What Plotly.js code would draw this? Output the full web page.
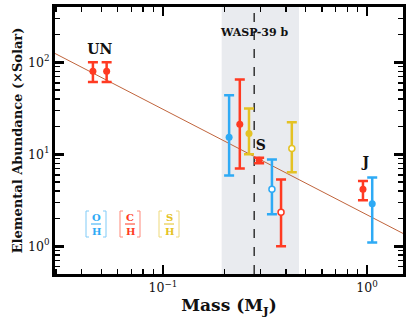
<!DOCTYPE html>
<html>
<head>
<meta charset="utf-8">
<script src="https://cdn.plot.ly/plotly-3.0.1.min.js"></script>
<style>
  html, body { margin: 0; padding: 0; background: #fff; }
  #chart { width: 411px; height: 327px; }
</style>
</head>
<body>
<div id="chart"></div>
<script>
// Oxygen [O/H] (blue)
const oMass = [0.211, 1.06];
const oAbund = [15.3, 2.9];
const oErrUp = [28.5, 2.7];
const oErrDown = [9.4, 1.8];
const oOpenMass = [0.342];
const oOpenAbund = [4.17];
const oOpenErrUp = [4.6];
const oOpenErrDown = [1.94];

// Carbon [C/H] (red): Uranus, Neptune, WASP-39 b, Saturn, Jupiter
const cMass = [0.0454, 0.053, 0.238, 0.296, 0.955];
const cAbund = [80, 80, 21.2, 8.6, 4.17];
const cErrUp = [20, 20, 44, 0.6, 0.95];
const cErrDown = [19, 19, 14.2, 0.6, 1.0];
const cOpenMass = [0.379];
const cOpenAbund = [2.34];
const cOpenErrUp = [3.0];
const cOpenErrDown = [1.34];

// Sulfur [S/H] (yellow)
const sMass = [0.264];
const sAbund = [16.9];
const sErrUp = [14.7];
const sErrDown = [6.9];
const sOpenMass = [0.428];
const sOpenAbund = [11.6];
const sOpenErrUp = [10.7];
const sOpenErrDown = [5.2];

// mass-metallicity trend
const fitMass = [0.0296, 1.5];
const fitAbund = [125, 1.38];

// WASP-39 b mass and its range
const waspMass = 0.28;
const waspRange = [0.194, 0.464];

// planet labels
const labelText = ['UN', 'S', 'J'];
const labelMass = [0.049, 0.302, 0.985];
const labelAbund = [134, 12.3, 8.0];

const xTickVals = [0.1, 1];
const xTickText = ['10<sup>\u22121</sup>', '10<sup>0</sup>'];
const yTickVals = [1, 10, 100];
const yTickText = ['10<sup>0</sup>', '10<sup>1</sup>', '10<sup>2</sup>'];

const blue = '#2eaaf5';
const red = '#ff3a22';
const yellow = '#e4c224';
const serif = 'DejaVu Serif, Liberation Serif, serif';

function pointTrace(x, y, up, down, color, open) {
    return {
        x: x, y: y, type: 'scatter', mode: 'markers',
        marker: {
            size: open ? 6 : 7,
            color: open ? '#ffffff' : color,
            line: { color: color, width: open ? 1.5 : 0 }
        },
        error_y: {
            type: 'data', symmetric: false, array: up, arrayminus: down,
            color: color, thickness: 2.5, width: 5
        },
        hoverinfo: 'x+y'
    };
}

const data = [
    {
        x: fitMass, y: fitAbund, type: 'scatter', mode: 'lines',
        line: { color: '#c0643c', width: 1 }, hoverinfo: 'none'
    },
    pointTrace(oMass, oAbund, oErrUp, oErrDown, blue, false),
    pointTrace(oOpenMass, oOpenAbund, oOpenErrUp, oOpenErrDown, blue, true),
    pointTrace(cMass, cAbund, cErrUp, cErrDown, red, false),
    pointTrace(cOpenMass, cOpenAbund, cOpenErrUp, cOpenErrDown, red, true),
    pointTrace(sMass, sAbund, sErrUp, sErrDown, yellow, false),
    pointTrace(sOpenMass, sOpenAbund, sOpenErrUp, sOpenErrDown, yellow, true),
    {
        x: labelMass, y: labelAbund, text: labelText, type: 'scatter', mode: 'text',
        textfont: { family: serif, size: 14, color: '#111' },
        texttemplate: '<b>%{text}</b>', hoverinfo: 'none'
    }
];

// plot box in pixels, used to place the little [X/H] keys
const box = { l: 55, r: 8, t: 7, b: 53, w: 411, h: 327 };
const pw = box.w - box.l - box.r;
const ph = box.h - box.t - box.b;
const px = v => (v - box.l) / pw;
const py = v => (box.h - box.b - v) / ph;

const keys = [
    { top: 'O', color: blue, cx: 96 },
    { top: 'C', color: red, cx: 130 },
    { top: 'S', color: yellow, cx: 169 }
];

const shapes = [
    {
        type: 'rect', xref: 'x', yref: 'paper',
        x0: waspRange[0], x1: waspRange[1], y0: 0, y1: 1,
        fillcolor: '#e9ebef', line: { width: 0 }, layer: 'below'
    },
    {
        type: 'line', xref: 'x', yref: 'paper',
        x0: waspMass, x1: waspMass, y0: 0, y1: 1,
        line: { color: '#333', width: 1.5, dash: 'dash' }, layer: 'below'
    }
];

const annotations = [
    {
        xref: 'x', yref: 'paper', x: Math.log10(waspMass), y: 0.905,
        xanchor: 'center', yanchor: 'middle',
        text: '<b>WASP-39 b</b>', showarrow: false,
        font: { family: serif, size: 11, color: '#111' }
    }
];

keys.forEach(k => {
    const cx = k.cx, cy = 224;
    annotations.push({
        xref: 'paper', yref: 'paper', x: px(cx), y: py(cy - 6),
        xanchor: 'center', yanchor: 'middle',
        text: '<b>' + k.top + '</b>', showarrow: false,
        font: { family: serif, size: 10, color: k.color }
    });
    annotations.push({
        xref: 'paper', yref: 'paper', x: px(cx), y: py(cy + 7),
        xanchor: 'center', yanchor: 'middle',
        text: '<b>H</b>', showarrow: false,
        font: { family: serif, size: 10, color: k.color }
    });
    shapes.push({
        type: 'line', xref: 'paper', yref: 'paper',
        x0: px(cx - 5), x1: px(cx + 5), y0: py(cy), y1: py(cy),
        line: { color: k.color, width: 1 }
    });
    const l = cx - 10, r = cx + 10, t = cy - 13, b = cy + 13;
    shapes.push({
        type: 'path', xref: 'paper', yref: 'paper',
        path: `M ${px(l + 3)} ${py(t)} L ${px(l)} ${py(t)} L ${px(l)} ${py(b)} L ${px(l + 3)} ${py(b)}`,
        line: { color: k.color, width: 1 }, opacity: 0.6
    });
    shapes.push({
        type: 'path', xref: 'paper', yref: 'paper',
        path: `M ${px(r - 3)} ${py(t)} L ${px(r)} ${py(t)} L ${px(r)} ${py(b)} L ${px(r - 3)} ${py(b)}`,
        line: { color: k.color, width: 1 }, opacity: 0.6
    });
});

const axisCommon = {
    type: 'log', showgrid: false, zeroline: false,
    showline: true, linecolor: '#000', linewidth: 3, mirror: 'ticks',
    ticks: 'inside', ticklen: 9, tickwidth: 2.5, tickcolor: '#000',
    minor: { ticks: 'inside', ticklen: 5, tickwidth: 1.5, tickcolor: '#000', dtick: 'D1', showgrid: false },
    tickfont: { family: serif, size: 12.5, color: '#111' }
};

const layout = {
    width: 411, height: 327,
    margin: { l: box.l, r: box.r, t: box.t, b: box.b },
    paper_bgcolor: '#fff', plot_bgcolor: '#fff',
    showlegend: false,
    xaxis: Object.assign({}, axisCommon, {
        range: [Math.log10(0.0296), Math.log10(1.5)],
        tickvals: xTickVals, ticktext: xTickText,
        title: { text: '<b>Mass (M<sub>J</sub>)</b>', font: { family: serif, size: 17, color: '#111' }, standoff: 6 }
    }),
    yaxis: Object.assign({}, axisCommon, {
        range: [Math.log10(0.5), Math.log10(400)],
        tickvals: yTickVals, ticktext: yTickText,
        title: { text: '<b>Elemental Abundance (\u00d7Solar)</b>', font: { family: serif, size: 13, color: '#111' }, standoff: 3 }
    }),
    shapes: shapes,
    annotations: annotations
};

Plotly.newPlot('chart', data, layout, { displayModeBar: false, staticPlot: true });
</script>
</body>
</html>
